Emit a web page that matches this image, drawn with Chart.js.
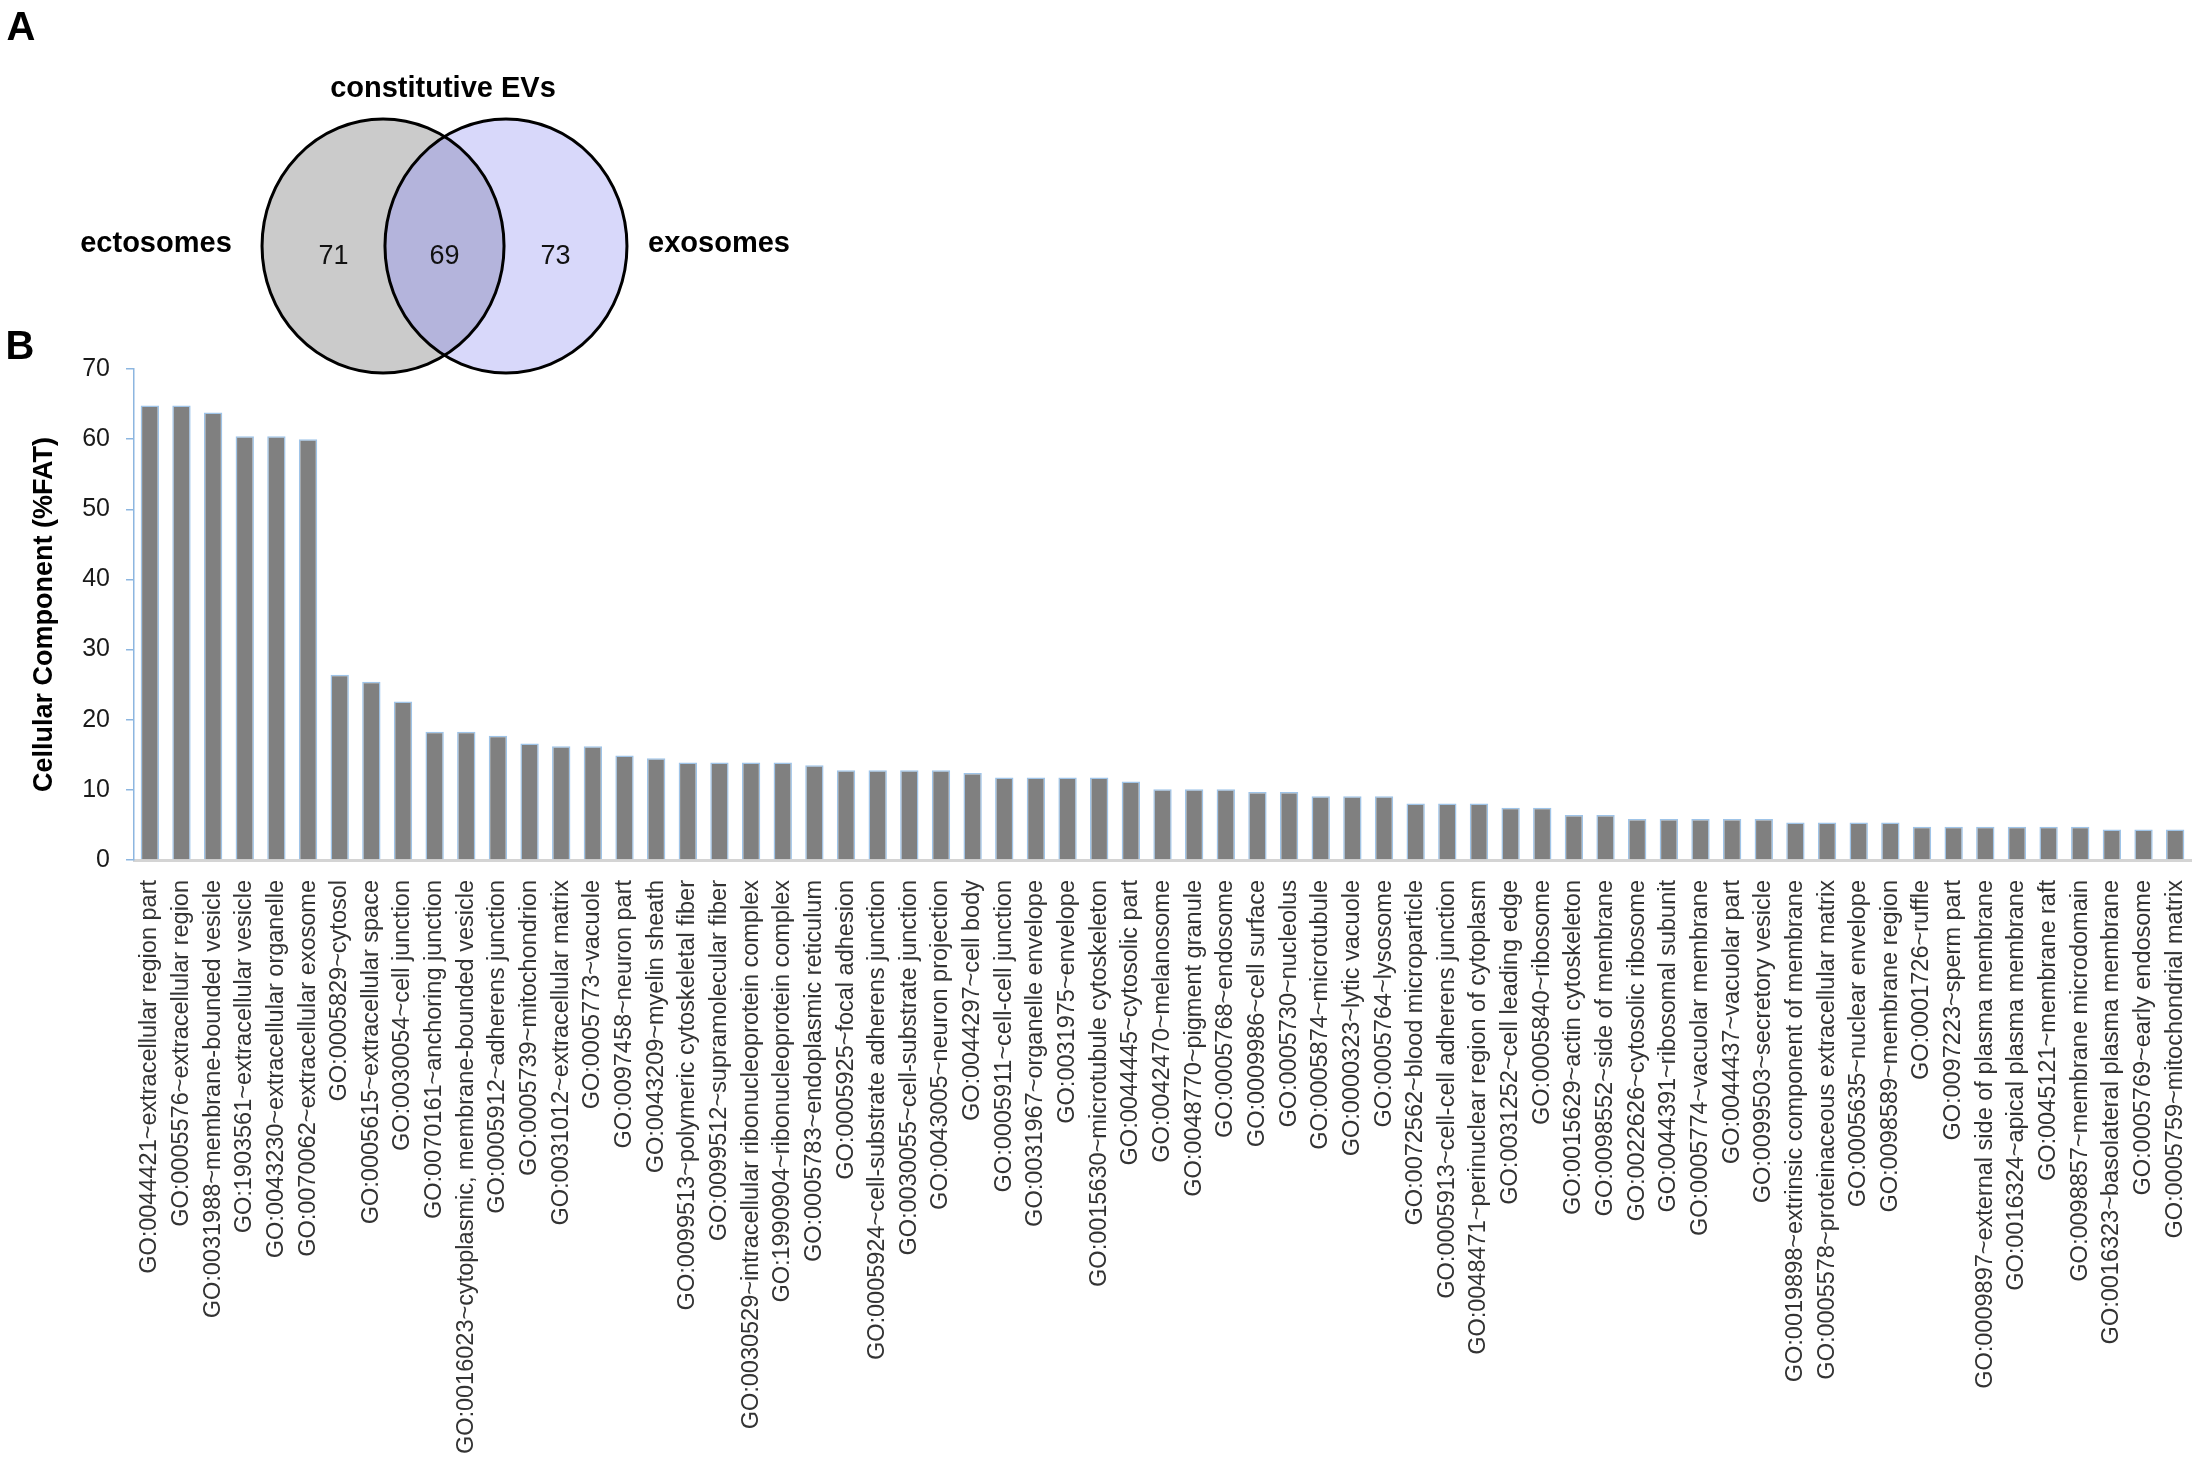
<!DOCTYPE html>
<html>
<head>
<meta charset="utf-8">
<script src="https://cdn.jsdelivr.net/npm/chart.js@4"></script>
<style>
  body { margin: 0; background: #fff; overflow: hidden; }
  #wrap { position: relative; width: 2193px; height: 1476px; font-family: "Liberation Sans", Arial, sans-serif; }
  canvas { position: absolute; left: 0; top: 0; }
  .lbl { position: absolute; font-weight: bold; color: #000; transform: translate(-50%, -50%); white-space: nowrap; }
</style>
</head>
<body>
<div id="wrap">
  <canvas id="barChart" width="2193" height="1476"></canvas>
  <canvas id="vennChart" width="900" height="390"></canvas>
  <div class="lbl" style="left:21px;top:26px;font-size:40px;">A</div>
  <div class="lbl" style="left:20px;top:345px;font-size:40px;">B</div>
  <div class="lbl" style="left:443px;top:87px;font-size:29px;">constitutive EVs</div>
  <div class="lbl" style="left:156px;top:242px;font-size:29px;">ectosomes</div>
  <div class="lbl" style="left:719px;top:242px;font-size:29px;">exosomes</div>
</div>
<script>
// venn: ectosomes only, shared, exosomes only
const vennCounts = [71, 69, 73];
const vennCentres = [-0.508, 0.508];

const categories = [
  'GO:0044421~extracellular region part',
  'GO:0005576~extracellular region',
  'GO:0031988~membrane-bounded vesicle',
  'GO:1903561~extracellular vesicle',
  'GO:0043230~extracellular organelle',
  'GO:0070062~extracellular exosome',
  'GO:0005829~cytosol',
  'GO:0005615~extracellular space',
  'GO:0030054~cell junction',
  'GO:0070161~anchoring junction',
  'GO:0016023~cytoplasmic, membrane-bounded vesicle',
  'GO:0005912~adherens junction',
  'GO:0005739~mitochondrion',
  'GO:0031012~extracellular matrix',
  'GO:0005773~vacuole',
  'GO:0097458~neuron part',
  'GO:0043209~myelin sheath',
  'GO:0099513~polymeric cytoskeletal fiber',
  'GO:0099512~supramolecular fiber',
  'GO:0030529~intracellular ribonucleoprotein complex',
  'GO:1990904~ribonucleoprotein complex',
  'GO:0005783~endoplasmic reticulum',
  'GO:0005925~focal adhesion',
  'GO:0005924~cell-substrate adherens junction',
  'GO:0030055~cell-substrate junction',
  'GO:0043005~neuron projection',
  'GO:0044297~cell body',
  'GO:0005911~cell-cell junction',
  'GO:0031967~organelle envelope',
  'GO:0031975~envelope',
  'GO:0015630~microtubule cytoskeleton',
  'GO:0044445~cytosolic part',
  'GO:0042470~melanosome',
  'GO:0048770~pigment granule',
  'GO:0005768~endosome',
  'GO:0009986~cell surface',
  'GO:0005730~nucleolus',
  'GO:0005874~microtubule',
  'GO:0000323~lytic vacuole',
  'GO:0005764~lysosome',
  'GO:0072562~blood microparticle',
  'GO:0005913~cell-cell adherens junction',
  'GO:0048471~perinuclear region of cytoplasm',
  'GO:0031252~cell leading edge',
  'GO:0005840~ribosome',
  'GO:0015629~actin cytoskeleton',
  'GO:0098552~side of membrane',
  'GO:0022626~cytosolic ribosome',
  'GO:0044391~ribosomal subunit',
  'GO:0005774~vacuolar membrane',
  'GO:0044437~vacuolar part',
  'GO:0099503~secretory vesicle',
  'GO:0019898~extrinsic component of membrane',
  'GO:0005578~proteinaceous extracellular matrix',
  'GO:0005635~nuclear envelope',
  'GO:0098589~membrane region',
  'GO:0001726~ruffle',
  'GO:0097223~sperm part',
  'GO:0009897~external side of plasma membrane',
  'GO:0016324~apical plasma membrane',
  'GO:0045121~membrane raft',
  'GO:0098857~membrane microdomain',
  'GO:0016323~basolateral plasma membrane',
  'GO:0005769~early endosome',
  'GO:0005759~mitochondrial matrix'
];

const percentFAT = [
  64.8, 64.8, 63.8, 60.4, 60.4, 60.0, 26.4, 25.4, 22.6, 18.3,
  18.3, 17.7, 16.6, 16.2, 16.2, 14.9, 14.5, 13.9, 13.9, 13.9,
  13.9, 13.5, 12.8, 12.8, 12.8, 12.8, 12.4, 11.75, 11.75, 11.75,
  11.75, 11.2, 10.1, 10.1, 10.1, 9.7, 9.7, 9.1, 9.1, 9.1,
  8.05, 8.05, 8.05, 7.45, 7.45, 6.4, 6.4, 5.85, 5.85, 5.85,
  5.85, 5.85, 5.35, 5.35, 5.35, 5.35, 4.75, 4.75, 4.75, 4.75,
  4.75, 4.75, 4.35, 4.35, 4.35
];

const yTicks = [0, 10, 20, 30, 40, 50, 60, 70];

Chart.defaults.font.family = '"Liberation Sans", Arial, sans-serif';

new Chart(document.getElementById('barChart'), {
  type: 'bar',
  data: {
    labels: categories,
    datasets: [{
      data: percentFAT,
      backgroundColor: '#808080',
      borderColor: '#9fc4e8',
      borderWidth: 1.5,
      categoryPercentage: 1,
      barPercentage: 0.58
    }]
  },
  options: {
    responsive: false,
    animation: false,
    layout: { padding: { top: 369, right: 2, left: 0, bottom: 0 } },
    plugins: { legend: { display: false }, tooltip: { enabled: false } },
    scales: {
      x: {
        grid: { display: false },
        border: { color: '#d4d4d4', width: 3 },
        ticks: {
          autoSkip: false, maxRotation: 90, minRotation: 90,
          padding: 12, color: '#333333', font: { size: 23.5 }
        },
        afterFit: s => { s.height = 616; s.paddingLeft = 0; s.paddingRight = 0; }
      },
      y: {
        min: 0, max: 70,
        afterBuildTicks: s => { s.ticks = yTicks.map(v => ({ value: v })); },
        grid: { drawOnChartArea: false, color: '#8db6e0', tickLength: 8, lineWidth: 1.5 },
        border: { color: '#8db6e0', width: 1.5 },
        ticks: { padding: 16, color: '#1a1a1a', font: { size: 25 } },
        title: {
          display: true, text: 'Cellular Component (%FAT)',
          color: '#000', font: { size: 27, weight: 'bold' },
          padding: { top: 28, bottom: 0 }
        },
        afterFit: s => { s.width = 134; }
      }
    }
  }
});

const vennPlugin = {
  id: 'venn',
  afterDatasetsDraw(chart) {
    const { ctx, scales: { x, y } } = chart;
    const rx = x.getPixelForValue(1) - x.getPixelForValue(0);
    const ry = y.getPixelForValue(0) - y.getPixelForValue(1);
    const cy = y.getPixelForValue(0);
    const [l, r] = vennCentres.map(v => x.getPixelForValue(v));
    const shape = cx => { ctx.beginPath(); ctx.ellipse(cx, cy, rx, ry, 0, 0, Math.PI * 2); };
    ctx.save();
    shape(l); ctx.fillStyle = '#cbcbcb'; ctx.fill();
    shape(r); ctx.fillStyle = '#d8d8fa'; ctx.fill();
    ctx.save();
    shape(l); ctx.clip();
    shape(r); ctx.fillStyle = '#b4b4dc'; ctx.fill();
    ctx.restore();
    ctx.lineWidth = 3; ctx.strokeStyle = '#000';
    shape(l); ctx.stroke();
    shape(r); ctx.stroke();
    ctx.fillStyle = '#111';
    ctx.font = '27px "Liberation Sans", Arial, sans-serif';
    ctx.textAlign = 'center'; ctx.textBaseline = 'middle';
    const pos = [vennCentres[0] - 0.41, 0, vennCentres[1] + 0.41];
    vennCounts.forEach((n, i) => ctx.fillText(String(n), x.getPixelForValue(pos[i]), y.getPixelForValue(-0.08)));
    ctx.restore();
  }
};

new Chart(document.getElementById('vennChart'), {
  type: 'scatter',
  data: { datasets: [{ data: vennCentres.map(v => ({ x: v, y: 0 })), pointRadius: 0 }] },
  options: {
    responsive: false,
    animation: false,
    layout: { padding: 0 },
    plugins: { legend: { display: false }, tooltip: { enabled: false } },
    scales: {
      x: { display: false, min: -444.5 / 121, max: 455.5 / 121 },
      y: { display: false, min: -144 / 127, max: 246 / 127 }
    }
  },
  plugins: [vennPlugin]
});
</script>
</body>
</html>
